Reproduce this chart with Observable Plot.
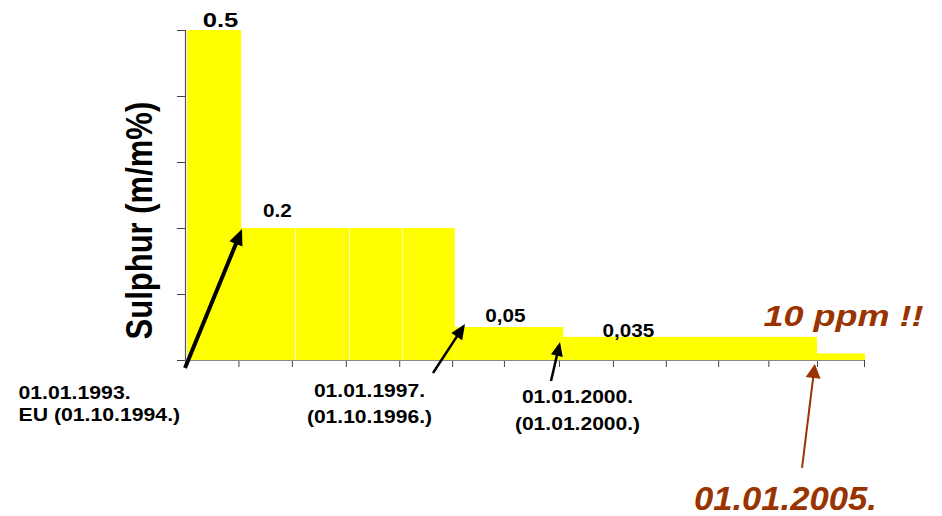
<!DOCTYPE html>
<html>
<head>
<meta charset="utf-8">
<script src="https://cdn.jsdelivr.net/npm/d3@7"></script>
<script src="https://cdn.jsdelivr.net/npm/@observablehq/plot@0.6"></script>
<style>
  html, body { margin: 0; padding: 0; background: #ffffff; }
  #chart svg { display: block; }
</style>
</head>
<body>
<div id="chart"></div>
<script>
// ---- data: sulphur limit periods (x = position along the time axis, 1 unit ≈ 1 year from 1992) ----
const periodStart  = [0.04, 1.05, 2.06, 3.07, 4.06, 5.05, 7.08, 11.83];
const periodEnd    = [1.05, 2.06, 3.07, 4.06, 5.05, 7.08, 11.83, 12.73];
const sulphurLimit = [0.5, 0.2, 0.2, 0.2, 0.2, 0.05, 0.035, 0.01];
const barSeparators = [2.06, 3.07, 4.06];
const xTicks = [0, 1, 2, 3.01, 4.01, 5, 5.97, 7, 8.01, 9, 9.98, 10.92, 11.83, 12.71];
const yTicks = [0, 0.1, 0.2, 0.3, 0.4, 0.5];

// value labels above bars
const valueLabels = ["0.5", "0.2", "0,05", "0,035"];
const valueLabelX = [0.655, 1.722, 5.99, 8.29];
const valueLabelY = [0.505, 0.217, 0.058, 0.036];

// date labels under the axis
const dateLabels = ["01.01.1993.", "EU (01.10.1994.)", "01.01.1997.", "(01.10.1996.)", "01.01.2000.", "(01.01.2000.)"];
const dateLabelX = [-3.126, -3.126, 3.444, 3.444, 7.338, 7.338];
const dateLabelY = [-0.059, -0.091, -0.056, -0.094, -0.064, -0.106];

// highlighted (brown) annotations
const ppmLabel = ["10 ppm !!"];
const ppmLabelX = [10.82];
const ppmLabelY = [0.053];
const dateLabel2005 = ["01.01.2005."];
const date2005X = [11.23];
const date2005Y = [-0.2258];

const yTitle = ["Sulphur (m/m%)"];
const yTitleX = [-0.618];
const yTitleY = [0.212];

// arrows (tail -> tip, in data units)
const arrowX1 = [0, 4.642, 6.851, 11.55];
const arrowY1 = [-0.0121, -0.0197, -0.0318, -0.1636];
const arrowX2 = [1.067, 5.241, 7.02, 11.79];
const arrowY2 = [0.1985, 0.0545, 0.0273, -0.006];
const arrowColor = ["#000000", "#000000", "#000000", "#993300"];
const arrowStroke = [4, 2.5, 2.5, 2];
const arrowHeadLen = [16, 15, 14, 14];
const arrowHeadHalf = [7, 6.5, 6, 7.5];

// ---- build tables ----
const bars = periodStart.map((s, i) => ({start: s, end: periodEnd[i], limit: sulphurLimit[i]}));
const BROWN = "#993300";
const FONT = "Liberation Sans, Arial, Helvetica, sans-serif";

const arrowsMark = (index, scales) => {
  const g = d3.create("svg:g").attr("aria-label", "arrows");
  arrowX1.forEach((_, i) => {
    const x1 = scales.x(arrowX1[i]), y1 = scales.y(arrowY1[i]);
    const x2 = scales.x(arrowX2[i]), y2 = scales.y(arrowY2[i]);
    const a = Math.atan2(y2 - y1, x2 - x1);
    const L = arrowHeadLen[i], W = arrowHeadHalf[i];
    const c = Math.cos(a), s = Math.sin(a);
    const bx = x2 - L * c, by = y2 - L * s;
    const nx = -s, ny = c;
    g.append("line")
      .attr("x1", x1).attr("y1", y1)
      .attr("x2", bx + 0.3 * L * c).attr("y2", by + 0.3 * L * s)
      .attr("stroke", arrowColor[i])
      .attr("stroke-width", arrowStroke[i]);
    g.append("path")
      .attr("d", `M${x2},${y2}L${bx + nx * W},${by + ny * W}L${bx - nx * W},${by - ny * W}Z`)
      .attr("fill", arrowColor[i]);
  });
  return g.node();
};

const chart = Plot.plot({
  width: 942,
  height: 516,
  marginLeft: 185,
  marginRight: 78,
  marginTop: 30,
  marginBottom: 156,
  style: {fontFamily: FONT, color: "#444", background: "#ffffff", overflow: "visible"},
  x: {type: "linear", domain: [0, 12.71], ticks: xTicks, tickSize: 7, tickFormat: () => "", label: null},
  y: {type: "linear", domain: [0, 0.5], ticks: yTicks, tickSize: 8, tickFormat: () => "", label: null},
  marks: [
    Plot.rect(bars, {x1: "start", x2: "end", y1: 0, y2: "limit", fill: "#ffff00"}),
    Plot.ruleX(barSeparators, {y1: 0, y2: 0.2, stroke: "#ffffff", strokeOpacity: 0.75, strokeWidth: 1}),
    Plot.ruleY([0], {stroke: "#888888", strokeWidth: 1.2}),
    Plot.ruleX([0], {y1: 0, y2: 0.5, stroke: "#555555", strokeWidth: 1.2}),
    Plot.text([valueLabels[0]], {x: [valueLabelX[0]], y: [valueLabelY[0]], text: d => d, ariaDescription: "sx-1.22",
      fontSize: 21, fontWeight: "bold", fill: "#000", textAnchor: "middle", lineAnchor: "bottom"}),
    Plot.text(valueLabels.slice(1), {x: valueLabelX.slice(1), y: valueLabelY.slice(1), text: d => d, ariaDescription: "sx-1.15",
      fontSize: 18, fontWeight: "bold", fill: "#000", textAnchor: "middle", lineAnchor: "bottom"}),
    Plot.text(dateLabels.slice(0, 2), {x: dateLabelX.slice(0, 2), y: dateLabelY.slice(0, 2), text: d => d, ariaDescription: "sx-1.18",
      fontSize: 18, fontWeight: "bold", fill: "#000", textAnchor: "start", lineAnchor: "bottom"}),
    Plot.text(dateLabels.slice(2), {x: dateLabelX.slice(2), y: dateLabelY.slice(2), text: d => d, ariaDescription: "sx-1.17",
      fontSize: 18, fontWeight: "bold", fill: "#000", textAnchor: "middle", lineAnchor: "bottom"}),
    Plot.text(ppmLabel, {x: ppmLabelX, y: ppmLabelY, text: d => d, ariaDescription: "sx-1.2",
      fontSize: 30, fontWeight: "bold", fontStyle: "italic", fill: BROWN, textAnchor: "start", lineAnchor: "bottom"}),
    Plot.text(dateLabel2005, {x: date2005X, y: date2005Y, text: d => d, ariaDescription: "sx-1.05",
      fontSize: 33, fontWeight: "bold", fontStyle: "italic", fill: BROWN, textAnchor: "middle", lineAnchor: "bottom"}),
    Plot.text(yTitle, {x: yTitleX, y: yTitleY, text: d => d, ariaDescription: "sy-1.2", rotate: -90,
      fontSize: 31, fontWeight: "bold", fill: "#000", textAnchor: "middle", lineAnchor: "bottom"}),
    arrowsMark
  ]
});

// widen the lettering horizontally, as in the reference (scale about each text's own anchor)
d3.select(chart).selectAll("g").each(function () {
  const lab = this.getAttribute("aria-description") || "";
  const m = /^s([xy])-([\d.]+)$/.exec(lab);
  if (!m) return;
  const k = +m[2];
  d3.select(this).selectAll("text").each(function () {
    const t = this.getAttribute("transform") || "";
    const extra = m[1] === "x" ? ` scale(${k},1)` : ` scale(1,${k})`;
    this.setAttribute("transform", t + extra);
  });
});

document.getElementById("chart").append(chart);
</script>
</body>
</html>
